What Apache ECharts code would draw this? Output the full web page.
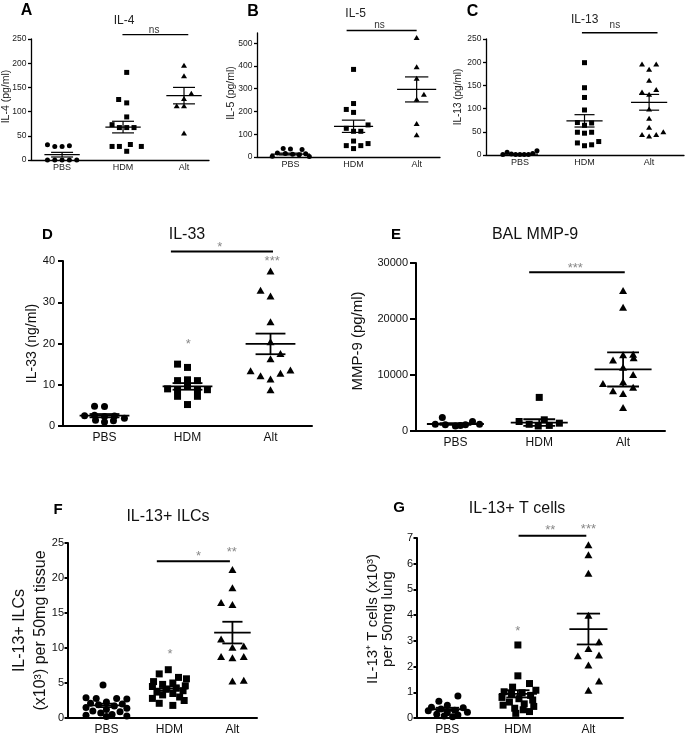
<!DOCTYPE html>
<html><head><meta charset="utf-8">
<script src="https://cdn.jsdelivr.net/npm/echarts@6/dist/echarts.min.js"></script>
<style>html,body{margin:0;padding:0;background:#fff}#c{width:688px;height:739px}</style>
</head><body><div id="c"></div>
<script>
const categories = ['PBS', 'HDM', 'Alt'];

// ---- Panel A: IL-4 (pg/ml)
const aTicks = [0, 50, 100, 150, 200, 250];
const aPBS = [31.5, 28, 28, 29.5, 0, 0, 0, 0, 0];
const aPBSCol = [-2, -1, 0, 1, -2, -1, 0, 1, 2];
const aHDM = [181, 125, 118, 89, 73, 67, 67, 67, 28, 28, 18, 32, 28];
const aHDMCol = [0.5, -0.6, 0.5, 0.5, -1.5, -0.5, 0.5, 1.5, -1.5, -0.5, 0.5, 1.0, 2.5];
const aAlt = [196, 174, 127, 138, 112, 112, 56];
const aAltCol = [0, 0, 0, 1, -1, 0, 0];
const aMean = [11, 68, 133];
const aSem = [4.8, 12, 17];
const aSigBar = [1.99, 3.07, 259];
const aSigText = ['ns'];
const aSigTextAt = [[2.51, 269]];

// ---- Panel B: IL-5 (pg/ml)
const bTicks = [0, 100, 200, 300, 400, 500];
const bPBS = [37, 35, 33, 18, 15, 12, 10, 14, 3, 2];
const bPBSCol = [-1, 0, 1.6, -1.8, -0.7, 0.3, 1.2, 2.1, -2.5, 2.6];
const bHDM = [385, 235, 209, 196, 141, 126, 113, 113, 70, 50, 50, 37, 59];
const bHDMCol = [0, 0, -1, 0, 2, -1, 0, 1, 0, -1, 1, 0, 2];
const bAlt = [525, 397, 346, 276, 254, 147, 98];
const bAltCol = [0, 0, 0, 1, 0, 0, 0];
const bMean = [13, 135, 297];
const bSem = [4, 27, 55];
const bSigBar = [1.89, 3.0, 556];
const bSigText = ['ns'];
const bSigTextAt = [[2.41, 580]];

// ---- Panel C: IL-13 (pg/ml)
const cTicks = [0, 50, 100, 150, 200, 250];
const cPBS = [1, 6, 2, 1, 1, 1, 1, 3, 9];
const cPBSCol = [-2.4, -1.8, -1.2, -0.6, 0, 0.6, 1.2, 1.8, 2.4];
const cHDM = [199, 145, 124, 97, 70, 64, 69, 49, 47, 49, 26, 20, 22, 29];
const cHDMCol = [0, 0, 0, 0, -1, 0, 1, -1, 0, 1, -1, 0, 1, 2];
const cAlt = [196, 196, 185, 161, 136, 141, 131, 99, 79, 60, 44, 41, 44, 50];
const cAltCol = [-1, 1, 0, 0, -1, 1, 0, 0, 0, 0, -1, 0, 1, 2];
const cMean = [2, 73.6, 113.6];
const cSem = [1, 13.3, 17];
const cSigBar = [1.96, 3.13, 263.5];
const cSigText = ['ns'];
const cSigTextAt = [[2.47, 280]];

// ---- Panel D: IL-33 (ng/ml)
const dTicks = [0, 10, 20, 30, 40];
const dPBS = [4.8, 4.7, 2.5, 2.6, 2.3, 2.4, 1.9, 1.4, 1.0, 1.3];
const dPBSCol = [-1, 0, -2, -1, 0, 1, 2, -0.9, 0, 0.9];
const dHDM = [15.0, 14.2, 11.0, 11.2, 11.0, 9.0, 8.8, 9.6, 8.8, 8.8, 7.2, 7.2, 5.2];
const dHDMCol = [-1, 0, -1, 0, 1, -2, -1, 0, 1, 2, -1, 1, 0];
const dAlt = [37.6, 32.9, 31.5, 25.3, 20.4, 17.6, 16.3, 13.4, 12.2, 12.8, 13.6, 11.4, 8.8];
const dAltCol = [0, -1, 0, 0, 0, 1, 0, -2, -1, 1, 2, 0, 0];
const dMean = [2.5, 9.6, 19.9];
const dSem = [0.4, 0.8, 2.5];
const dSigBar = [1.80, 3.03, 42.3];
const dSigText = ['*', '*', '***'];
const dSigTextAt = [[2.39, 44.0], [2.01, 20.4], [3.02, 40.6]];

// ---- Panel E: BAL MMP-9 (pg/ml)
const eTicks = [0, 10000, 20000, 30000];
const ePBS = [2400, 1200, 1100, 900, 1100, 1700, 1200, 1000];
const ePBSCol = [-1.3, -2, -1, 0, 1, 1.7, 2.4, 0.5];
const eHDM = [6000, 1700, 1200, 2000, 900, 1000, 1400];
const eHDMCol = [0, -2, -1, 0.5, -0.1, 1, 2];
const eAlt = [25100, 22100, 12700, 13600, 13700, 13100, 11400, 10100, 8500, 8800, 7200, 7800, 6700, 4200];
const eAltCol = [0, 0, -1, 0, 1, 1.05, 0, 1, -2, 0, -1, 1, 0, 0];
const eMean = [1250, 1500, 11000];
const eSem = [150, 600, 3050];
const eSigBar = [1.88, 3.02, 28330];
const eSigText = ['***'];
const eSigTextAt = [[2.43, 29600]];

// ---- Panel F: IL-13+ ILCs
const fTicks = [0, 5, 10, 15, 20, 25];
const fPBS = [4.7, 2.9, 2.8, 2.8, 2.7, 2.3, 2.1, 2.0, 1.9, 1.7, 1.5, 1.4, 1.2, 1.0, 0.9, 0.7, 0.5, 0.4, 0.3, 0.2];
const fPBSCol = [-0.3, -1.8, -0.9, 0.9, 1.8, 0, -1.4, 1.4, -0.7, 0.7, -1.8, 1.8, 0, -1.2, 1.2, -0.5, 0.5, -1.8, 1.8, 0];
const fHDM = [6.9, 6.3, 5.8, 5.6, 5.2, 5.0, 4.8, 4.6, 4.5, 4.3, 4.1, 3.9, 3.7, 3.5, 3.3, 3.0, 2.8, 2.5, 2.1, 1.8];
const fHDMCol = [-0.1, -0.9, 0.8, 1.5, -1.4, 0.3, -0.6, 1.4, -1.5, 0.6, -0.3, 1.2, -1.1, 0.3, -0.6, 0.9, -1.5, 1.3, -0.9, 0.3];
const fAlt = [21.2, 18.6, 16.5, 16.2, 11.3, 10.3, 10.1, 8.8, 8.6, 8.8, 5.3, 5.4];
const fAltCol = [0, 0, -1, 0, -1, 1, 0, -1, 0, 1, 0, 1];
const fMean = [1.8, 4.2, 12.2];
const fSem = [0.25, 0.3, 1.55];
const fSigBar = [1.80, 2.96, 22.4];
const fSigText = ['*', '*', '**'];
const fSigTextAt = [[2.46, 23.5], [2.01, 9.5], [2.99, 24.0]];

// ---- Panel G: IL-13+ T cells
const gTicks = [0, 1, 2, 3, 4, 5, 6, 7];
const gPBS = [0.86, 0.65, 0.5, 0.42, 0.4, 0.35, 0.3, 0.28, 0.22, 0.2, 0.15, 0.12, 0.08, 0.05];
const gPBSCol = [1, -0.8, 0, -1.5, 1.5, -0.6, 0.7, -1.8, 1.9, 0, -1, 1, -0.3, 0.5];
const gHDM = [2.84, 1.64, 1.34, 1.2, 1.08, 1.02, 0.98, 0.92, 0.88, 0.8, 0.75, 0.7, 0.62, 0.55, 0.5, 0.45, 0.38, 0.32, 0.25, 0.18];
const gHDMCol = [0, 0, 1.1, -0.5, 1.7, -1.3, 0.4, -0.6, 1.2, -1.5, 0.1, 1.4, -0.8, 0.6, -1.4, 1.5, -0.3, 0.5, 1.1, -0.2];
const gAlt = [6.74, 6.35, 5.63, 4.0, 2.97, 2.7, 2.42, 2.45, 2.06, 1.44, 1.08];
const gAltCol = [0, 0, 0, 0, 1, 0, -1, 1, 0, 1, 0];
const gMean = [0.34, 0.94, 3.46];
const gSem = [0.06, 0.14, 0.6];
const gSigBar = [2.01, 2.97, 7.09];
const gSigText = ['**', '*', '***'];
const gSigTextAt = [[2.46, 7.39], [2.0, 3.49], [3.0, 7.45]];

const panels = [
  {letter:'A', title:'IL-4', yName:'IL-4 (pg/ml)', yMax:250, ticks:aTicks, groups:[aPBS,aHDM,aAlt], cols:[aPBSCol,aHDMCol,aAltCol], mean:aMean, sem:aSem, bar:aSigBar, texts:aSigText, textAt:aSigTextAt},
  {letter:'B', title:'IL-5', yName:'IL-5 (pg/ml)', yMax:545, ticks:bTicks, groups:[bPBS,bHDM,bAlt], cols:[bPBSCol,bHDMCol,bAltCol], mean:bMean, sem:bSem, bar:bSigBar, texts:bSigText, textAt:bSigTextAt},
  {letter:'C', title:'IL-13', yName:'IL-13 (pg/ml)', yMax:250, ticks:cTicks, groups:[cPBS,cHDM,cAlt], cols:[cPBSCol,cHDMCol,cAltCol], mean:cMean, sem:cSem, bar:cSigBar, texts:cSigText, textAt:cSigTextAt},
  {letter:'D', title:'IL-33', yName:'IL-33 (ng/ml)', yMax:40, ticks:dTicks, groups:[dPBS,dHDM,dAlt], cols:[dPBSCol,dHDMCol,dAltCol], mean:dMean, sem:dSem, bar:dSigBar, texts:dSigText, textAt:dSigTextAt},
  {letter:'E', title:'BAL MMP-9', yName:'MMP-9 (pg/ml)', yMax:30000, ticks:eTicks, groups:[ePBS,eHDM,eAlt], cols:[ePBSCol,eHDMCol,eAltCol], mean:eMean, sem:eSem, bar:eSigBar, texts:eSigText, textAt:eSigTextAt},
  {letter:'F', title:'IL-13+ ILCs', yName:'IL-13+ ILCs\n(x10³) per 50mg tissue', yMax:25, ticks:fTicks, groups:[fPBS,fHDM,fAlt], cols:[fPBSCol,fHDMCol,fAltCol], mean:fMean, sem:fSem, bar:fSigBar, texts:fSigText, textAt:fSigTextAt},
  {letter:'G', title:'IL-13+ T cells', yName:'IL-13⁺ T cells (x10³)\nper 50mg lung', yMax:7, ticks:gTicks, groups:[gPBS,gHDM,gAlt], cols:[gPBSCol,gHDMCol,gAltCol], mean:gMean, sem:gSem, bar:gSigBar, texts:gSigText, textAt:gSigTextAt}
];

// ---- layout & style (pixels)
const FONT = "'Liberation Sans', Arial, Helvetica, sans-serif";
const small = {tickFont:8.5, catFont:9, titleFont:12, weight:'normal', letterFont:16, axisW:1.3, sym:5, lineW:1.2, barW:1.3, textFont:10, starColor:'#333', catMargin:3.5, color:'#222'};
const big = {tickFont:11, catFont:12, titleFont:16, weight:'normal', letterFont:15, axisW:2, sym:7, lineW:1.8, barW:2, textFont:13, starColor:'#888', catMargin:6, color:'#111'};
const layouts = [
  {s:small, left:31, top:39, width:178, height:121, xMin:0.49, xMax:3.41, step:0.12, meanHalf:0.29, semHalf:0.18, nameGap:19, nameFont:10.5, nameLH:12, nameShift:6, tickLen:3, labMargin:4.5, letterAt:[26.5,10.8], titleAt:[124,20.3]},
  {s:small, left:257, top:33, width:183, height:124, xMin:0.47, xMax:3.37, step:0.115, meanHalf:0.31, semHalf:0.185, nameGap:19.5, nameFont:10.5, nameLH:12, nameShift:4, tickLen:3, labMargin:4.5, letterAt:[253,12], titleAt:[355.7,13.7]},
  {s:small, left:486, top:39, width:198, height:116, xMin:0.475, xMax:3.54, step:0.11, meanHalf:0.28, semHalf:0.155, nameGap:22, nameFont:10, nameLH:12, nameShift:0, tickLen:3, labMargin:4.5, letterAt:[472.5,11.3], titleAt:[584.7,19.7]},
  {s:big, left:63, top:261, width:249, height:165, xMin:0.50, xMax:3.50, step:0.12, meanHalf:0.3, semHalf:0.18, nameGap:23, nameFont:14, nameLH:16, nameShift:0, tickLen:5, labMargin:8, letterAt:[47.5,234.5], titleAt:[187,234.5]},
  {s:big, left:416, top:263, width:249, height:168, xMin:0.53, xMax:3.50, step:0.12, meanHalf:0.34, semHalf:0.19, nameGap:50, nameFont:15, nameLH:17, nameShift:12, tickLen:6, labMargin:8, letterAt:[396,235], titleAt:[535,235]},
  {s:big, left:68, top:543, width:189, height:175, xMin:0.39, xMax:3.39, step:0.18, meanHalf:0.29, semHalf:0.16, nameGap:17, nameFont:16, nameLH:21, nameShift:0, tickLen:3.5, labMargin:4, letterAt:[58,509.7], titleAt:[168,517]},
  {s:big, left:417, top:538, width:206, height:180, xMin:0.57, xMax:3.49, step:0.15, meanHalf:0.27, semHalf:0.165, nameGap:22, nameFont:15, nameLH:14.5, nameShift:18, tickLen:3.5, labMargin:4, letterAt:[399,508], titleAt:[517,509]}
];

const symbols = ['circle', 'rect', 'triangle'];
const grid = [], xAxis = [], yAxis = [], series = [], title = [];

panels.forEach((p, i) => {
  const L = layouts[i], s = L.s;
  grid.push({left:L.left, top:L.top, width:L.width, height:L.height, outerBoundsMode:'none', containLabel:false});
  title.push({text:p.letter, left:L.letterAt[0], top:L.letterAt[1], textAlign:'center', textVerticalAlign:'middle', padding:0,
    textStyle:{fontSize:s.letterFont, fontWeight:'bold', color:'#000', fontFamily:FONT}});
  title.push({text:p.title, left:L.titleAt[0], top:L.titleAt[1], textAlign:'center', textVerticalAlign:'middle', padding:0,
    textStyle:{fontSize:s.titleFont, fontWeight:s.weight, color:s.color, fontFamily:FONT}});
  xAxis.push({type:'value', gridIndex:i, min:L.xMin, max:L.xMax,
    axisLine:{show:true, onZero:false, lineStyle:{color:'#000', width:s.axisW}},
    axisTick:{show:false}, splitLine:{show:false},
    axisLabel:{customValues:[1,2,3], formatter:v => categories[Math.round(v) - 1], fontSize:s.catFont, fontWeight:s.weight, color:s.color, fontFamily:FONT, margin:s.catMargin}});
  yAxis.push({type:'value', gridIndex:i, min:0, max:p.yMax,
    axisLine:{show:true, onZero:false, lineStyle:{color:'#000', width:s.axisW}},
    axisTick:{show:true, customValues:p.ticks, length:L.tickLen, lineStyle:{color:'#000', width:s.axisW}},
    splitLine:{show:false},
    axisLabel:{customValues:p.ticks, formatter:v => String(v), fontSize:s.tickFont, fontWeight:s.weight, color:s.color, fontFamily:FONT, margin:L.labMargin},
    name:p.yName, nameLocation:'middle', nameGap:L.nameGap, nameMoveOverlap:false,
    nameTextStyle:{fontSize:L.nameFont, lineHeight:L.nameLH, fontWeight:s.weight, color:s.color, fontFamily:FONT, padding:[0, 0, 0, L.nameShift]}});
  p.groups.forEach((vals, g) => {
    series.push({type:'scatter', xAxisIndex:i, yAxisIndex:i, symbol:symbols[g],
      symbolSize: g === 2 ? [s.sym + 1, s.sym] : s.sym,
      itemStyle:{color:'#000', opacity:1}, silent:true, z:2,
      data: vals.map((v, k) => [g + 1 + p.cols[g][k] * L.step, v])});
  });
  series.push({type:'custom', xAxisIndex:i, yAxisIndex:i, silent:true, clip:false, z:4,
    data: p.mean.map((m, g) => [g + 1, m, p.sem[g]]),
    renderItem: (params, api) => {
      const x = api.value(0), m = api.value(1), e = api.value(2);
      const a1 = api.coord([x - L.meanHalf, m]), a2 = api.coord([x + L.meanHalf, m]);
      const h1 = api.coord([x - L.semHalf, m + e]), h2 = api.coord([x + L.semHalf, m + e]);
      const l1 = api.coord([x - L.semHalf, m - e]), l2 = api.coord([x + L.semHalf, m - e]);
      const st = {stroke:'#000', lineWidth:s.lineW};
      return {type:'group', children:[
        {type:'line', shape:{x1:a1[0], y1:a1[1], x2:a2[0], y2:a2[1]}, style:st},
        {type:'line', shape:{x1:h1[0], y1:h1[1], x2:h2[0], y2:h2[1]}, style:st},
        {type:'line', shape:{x1:l1[0], y1:l1[1], x2:l2[0], y2:l2[1]}, style:st},
        {type:'line', shape:{x1:(h1[0]+h2[0])/2, y1:h1[1], x2:(l1[0]+l2[0])/2, y2:l1[1]}, style:st}
      ]};
    }});
  series.push({type:'custom', xAxisIndex:i, yAxisIndex:i, silent:true, clip:false, z:4,
    data: [p.bar],
    renderItem: (params, api) => {
      const a = api.coord([api.value(0), api.value(2)]), b = api.coord([api.value(1), api.value(2)]);
      return {type:'line', shape:{x1:a[0], y1:a[1], x2:b[0], y2:a[1]}, style:{stroke:'#000', lineWidth:s.barW}};
    }});
  series.push({type:'custom', xAxisIndex:i, yAxisIndex:i, silent:true, clip:false, z:4,
    data: p.textAt,
    renderItem: (params, api) => {
      const c = api.coord([api.value(0), api.value(1)]);
      const t = p.texts[params.dataIndex];
      const star = t.indexOf('*') >= 0;
      return {type:'text', x:c[0], y:c[1] + (star ? 0.22 * s.textFont : 0),
        style:{text:t, fill: star ? s.starColor : '#333', font: s.textFont + 'px ' + FONT,
          align:'center', verticalAlign:'middle', textAlign:'center', textVerticalAlign:'middle'}};
    }});
});

const chart = echarts.init(document.getElementById('c'), null, {renderer:'canvas'});
chart.setOption({animation:false, backgroundColor:'#fff', title, grid, xAxis, yAxis, series});
</script>
</body></html>
